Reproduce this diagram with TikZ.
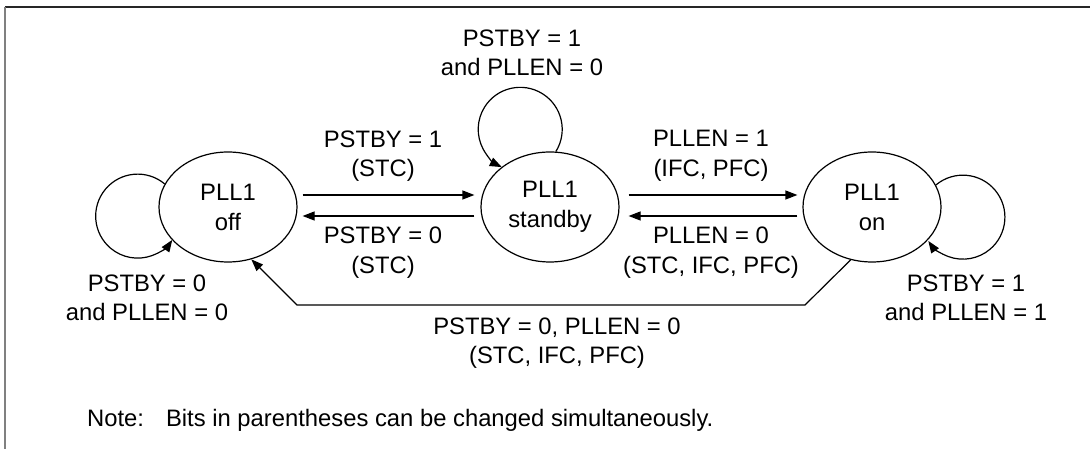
\documentclass[tikz,border=0pt]{standalone}
\usepackage{fontspec}
\setmainfont{Liberation Sans}
\usetikzlibrary{arrows.meta,shapes.geometric}
\begin{document}
\begin{tikzpicture}[x=1pt,y=1pt,
  state/.style={ellipse,draw,line width=1.2pt,minimum width=138pt,minimum height=110pt,inner sep=0pt,align=center,font=\fontsize{23.8}{30}\selectfont},
  lbl/.style={align=center,font=\fontsize{23.8}{29.5}\selectfont,inner sep=0pt},
  conn/.style={line width=1.2pt,-{Triangle[length=12pt,width=9pt]}}]
\useasboundingbox (0,0) rectangle (1090,449);
\draw[line width=2pt,black!85] (5,442) -- (1090,442);
\draw[line width=2pt,gray] (5,442) -- (5,0);

\node[state] (off) at (228,242) {PLL1\\off};
\node[state] (standby) at (550,242) {PLL1\\standby};
\node[state] (on) at (872,242) {PLL1\\on};

% self loops
\draw[conn] (standby.84.2) arc[start angle=-32, end angle=244, radius=42pt];
\draw[conn] (off.160.6) arc[start angle=50, end angle=325.5, radius=42pt];
\draw[conn] (on.19.1) arc[start angle=130, end angle=-145.5, radius=42pt];

% straight transitions
\draw[conn] ([xshift=5pt,yshift=12pt]off.east) -- ([xshift=-6pt,yshift=12pt]standby.west);
\draw[conn] ([xshift=-6pt,yshift=-9pt]standby.west) -- ([xshift=5pt,yshift=-9pt]off.east);
\draw[conn] ([xshift=9pt,yshift=12pt]standby.east) -- ([xshift=-5pt,yshift=12pt]on.west);
\draw[conn] ([xshift=-5pt,yshift=-9pt]on.west) -- ([xshift=9pt,yshift=-9pt]standby.east);

% bottom transition
\coordinate (br) at (805,144);
\coordinate (bl) at (297,144);
\draw[conn] (on.248.4) -- (br) -- (bl) -- (off.294.4);

% labels
\node[lbl] (lstby) at (522,396) {PSTBY = 1\\and PLLEN = 0};
\node[lbl] (loffstby) at (383,293) {PSTBY = 1\\(STC)};
\node[lbl] (lstbyoff) at (383,196.5) {PSTBY = 0\\(STC)};
\node[lbl] (lstbyon) at (711,293) {PLLEN = 1\\(IFC, PFC)};
\node[lbl] (lonstby) at (711,196.5) {PLLEN = 0\\(STC, IFC, PFC)};
\node[lbl] (loff) at (147,151) {PSTBY = 0\\and PLLEN = 0};
\node[lbl] (lon) at (966,151) {PSTBY = 1\\and PLLEN = 1};
\node[lbl] (lbottom) at (557,106) {PSTBY = 0, PLLEN = 0\\(STC, IFC, PFC)};
\node[lbl,anchor=base west] (note) at (87,22) {Note:\hspace{22pt}Bits in parentheses can be changed simultaneously.};
\end{tikzpicture}
\end{document}
